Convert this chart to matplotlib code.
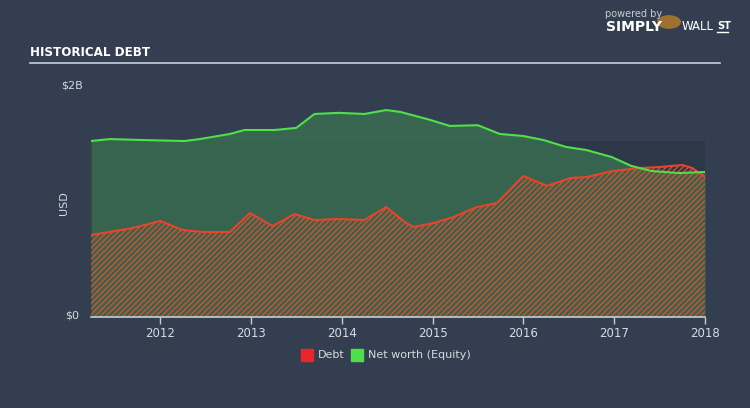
import matplotlib
matplotlib.use("Agg")
import matplotlib.pyplot as plt
import numpy as np

# Data (decimal years, values in USD billions)
equity_years = [2011.24, 2011.45, 2011.78, 2012.27, 2012.44, 2012.77, 2012.93,
                2013.26, 2013.50, 2013.70, 2013.97, 2014.25, 2014.49, 2014.65,
                2014.97, 2015.19, 2015.50, 2015.74, 2016.00, 2016.22, 2016.47,
                2016.69, 2016.97, 2017.19, 2017.41, 2017.71, 2018.00]
equity_vals = [1.517, 1.534, 1.526, 1.517, 1.534, 1.578, 1.612,
               1.612, 1.630, 1.750, 1.760, 1.750, 1.784, 1.767,
               1.700, 1.647, 1.653, 1.578, 1.560, 1.526, 1.466,
               1.440, 1.380, 1.302, 1.259, 1.241, 1.250]

debt_years = [2011.24, 2011.70, 2012.00, 2012.25, 2012.47, 2012.77, 2012.99,
              2013.24, 2013.48, 2013.70, 2013.97, 2014.25, 2014.49, 2014.71,
              2014.79, 2015.01, 2015.23, 2015.49, 2015.71, 2016.00, 2016.26,
              2016.52, 2016.70, 2016.99, 2017.28, 2017.50, 2017.75, 2017.86,
              2018.00]
debt_vals = [0.707, 0.767, 0.828, 0.750, 0.733, 0.733, 0.897,
             0.784, 0.888, 0.836, 0.845, 0.836, 0.948, 0.810,
             0.776, 0.810, 0.862, 0.948, 0.983, 1.216, 1.130,
             1.198, 1.207, 1.259, 1.284, 1.293, 1.310, 1.284,
             1.207]

year_ticks = [2012, 2013, 2014, 2015, 2016, 2017, 2018]

BG = "#333f50"
TXT = "#d6dae0"

plt.rcParams['hatch.linewidth'] = 1.0
fig = plt.figure(figsize=(7.5, 4.08), dpi=100, facecolor=BG)
ax = fig.add_axes([91/750, 1-317/408, 614/750, 232/408])
ax.set_facecolor(BG)
ax.set_xlim(2011.24, 2018.0)
ax.set_ylim(0, 2.0)

# darker plot region
ax.fill_between([2011.24, 2018.0], 0, 1.52, color="#2c3747", zorder=0, lw=0)

ax.fill_between(equity_years, 0, equity_vals, color="#3a7050", alpha=0.8, lw=0, zorder=1)
ax.fill_between(debt_years, 0, debt_vals, facecolor="none", edgecolor="#d4502e",
                hatch="//////", lw=0, zorder=2)
ax.plot(debt_years, debt_vals, color="#e8442a", lw=1.5, zorder=3)
ax.plot(equity_years, equity_vals, color="#4fe04a", lw=1.5, zorder=4)

for s in ["top", "right", "left"]:
    ax.spines[s].set_visible(False)
ax.spines["bottom"].set_color("#c8ccd2")
ax.spines["bottom"].set_linewidth(1.2)
ax.set_xticks(year_ticks)
ax.set_xticklabels([str(y) for y in year_ticks])
ax.tick_params(axis="x", colors="#c8ccd2", labelcolor=TXT, length=5, width=1, labelsize=8.5, pad=2)
ax.set_yticks([])

fig.text(72/750, 1-85/408, "$2B", color=TXT, fontsize=8, ha="center", va="center")
fig.text(72/750, 1-316/408, "$0", color=TXT, fontsize=8, ha="center", va="center")
fig.text(64/750, 1-203/408, "USD", color=TXT, fontsize=8, ha="center", va="center", rotation=90)

fig.text(30/750, 1-52/408, "HISTORICAL DEBT", color="white", fontsize=9.5,
         fontweight="bold", fontstretch="condensed", family="DejaVu Sans",
         ha="left", va="center")
fig.add_artist(plt.Line2D([30/750, 720/750], [1-63/408, 1-63/408], color="#c8d0da", lw=1.2))

fig.text(605/750, 1-14/408, "powered by", color="#c8ccd2", fontsize=7, ha="left", va="center")
fig.text(606/750, 1-27/408, "SIMPLY", color="white", fontsize=10, fontweight="bold", ha="left", va="center")
fig.text(682/750, 1-27/408, "WALL", color="white", fontsize=8.5, ha="left", va="center")
fig.text(717/750, 1-26/408, "ST", color="white", fontsize=7, fontweight="bold", ha="left", va="center")
fig.add_artist(plt.Line2D([717/750, 728/750], [1-32/408, 1-32/408], color="white", lw=1))
fig.add_artist(plt.Circle((669/750, 1-22/408), 0.015, color="#a07030", transform=fig.transFigure))

# legend
fig.add_artist(plt.Rectangle((301/750, 1-361/408), 12/750, 12/408, color="#e8262a", transform=fig.transFigure))
fig.text(318/750, 1-355/408, "Debt", color=TXT, fontsize=8, ha="left", va="center")
fig.add_artist(plt.Rectangle((351/750, 1-361/408), 12/750, 12/408, color="#4ee04a", transform=fig.transFigure))
fig.text(368/750, 1-355/408, "Net worth (Equity)", color=TXT, fontsize=8, ha="left", va="center")

fig.savefig("out.png", dpi=100, facecolor=BG)
